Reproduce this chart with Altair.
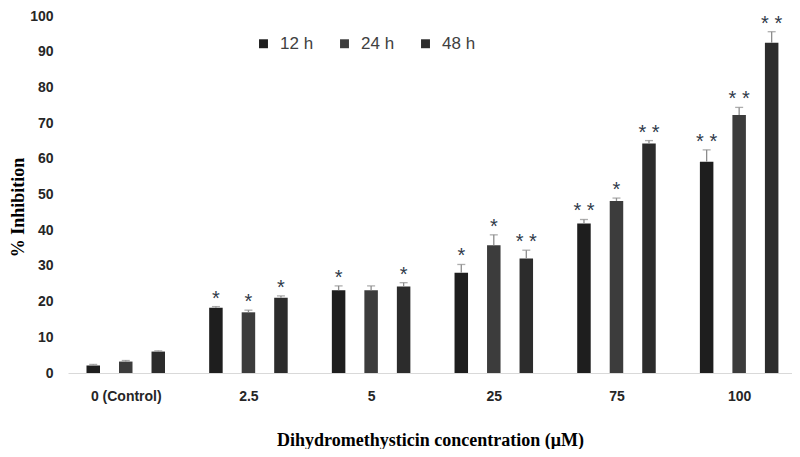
import altair as alt
import pandas as pd

groups = ["0 (Control)", "2.5", "5", "25", "75", "100"]
series = ["12 h", "24 h", "48 h"]
vals_12 = [2.1, 18.3, 23.2, 28.1, 41.9, 59.2]
err_12 = [0.3, 0.3, 1.2, 2.3, 1.1, 3.3]
vals_24 = [3.2, 17.0, 23.2, 35.8, 48.2, 72.3]
err_24 = [0.3, 0.6, 1.2, 2.9, 0.8, 2.1]
vals_48 = [6.0, 21.1, 24.2, 32.1, 64.3, 92.5]
err_48 = [0.2, 0.5, 1.1, 2.3, 0.8, 3.1]
sig_12 = ["", "*", "*", "*", "* *", "* *"]
sig_24 = ["", "*", "", "*", "*", "* *"]
sig_48 = ["", "*", "*", "* *", "* *", "* *"]

colors = ["#1e1e1e", "#3c3c3c", "#2c2c2c"]

rows = []
for si, (s, v, e, g) in enumerate(zip(series, [vals_12, vals_24, vals_48],
                                       [err_12, err_24, err_48],
                                       [sig_12, sig_24, sig_48])):
    for gi in range(len(groups)):
        rows.append({"gi": gi, "si": si, "series": s, "value": v[gi],
                     "err": e[gi], "sig": g[gi]})
df = pd.DataFrame(rows)

label_expr = "[" + ",".join(f"'{g}'" for g in groups) + "][datum.value]"

x_scale = alt.Scale(domain=[-0.43, 5.39], nice=False, zero=False)
y_scale = alt.Scale(domain=[0, 100], nice=False)

x_axis = alt.Axis(
    values=list(range(len(groups))), labelExpr=label_expr, grid=False,
    ticks=False, domainColor="#d9d9d9", domainWidth=1, labelOverlap=False,
    labelFont="Liberation Sans", labelFontWeight="bold", labelFontSize=14,
    labelColor="#262626", labelPadding=16,
    title="Dihydromethysticin concentration (\u03bcM)",
    titleFont="Liberation Serif", titleFontSize=18, titleFontWeight="bold",
    titleColor="#000000", titleY=67, titleBaseline="middle")

y_axis = alt.Axis(
    values=list(range(0, 101, 10)), grid=False, ticks=False,
    domain=False, labelOverlap=False, labelFlush=False,
    labelFont="Liberation Sans", labelFontWeight="bold", labelFontSize=14,
    labelColor="#262626", labelPadding=15,
    title="% Inhibition", titleFont="Liberation Serif", titleFontSize=18,
    titleFontWeight="bold", titleColor="#000000", titleX=-50, titleY=191,
    titleBaseline="middle", titleAlign="center", titleAngle=-90)

base = alt.Chart(df).transform_calculate(
    pos="datum.gi + (datum.si - 1) * 0.265",
    top="datum.value + datum.err",
)

X = alt.X("pos:Q", scale=x_scale, axis=x_axis)

bars = base.mark_bar(size=13.5).encode(
    x=X,
    y=alt.Y("value:Q", scale=y_scale, axis=y_axis),
    color=alt.Color("series:N", scale=alt.Scale(domain=series, range=colors),
                    legend=alt.Legend(orient="none", direction="horizontal",
                                      legendX=187, legendY=19, title=None,
                                      symbolType="square", symbolSize=80,
                                      symbolStrokeWidth=0,
                                      labelFont="Liberation Sans",
                                      labelFontSize=17, labelColor="#404040",
                                      columnPadding=22, labelOffset=8)),
)

err_rule = base.mark_rule(color="#8c8c8c", strokeWidth=1.3).encode(
    x=X,
    y=alt.Y("value:Q", scale=y_scale, axis=y_axis),
    y2="top:Q",
)

err_cap = base.mark_tick(orient="horizontal", size=8, thickness=1.3,
                         color="#8c8c8c").encode(
    x=X,
    y=alt.Y("top:Q", scale=y_scale, axis=y_axis),
)

stars = base.mark_text(font="Liberation Sans", fontSize=20, color="#2f3a4a",
                       baseline="middle", dy=-8).encode(
    x=X,
    y=alt.Y("top:Q", scale=y_scale, axis=y_axis),
    text="sig:N",
)

chart = alt.layer(bars, err_rule, err_cap, stars).properties(
    width=724, height=357,
    autosize=alt.AutoSizeParams(type="none"),
    padding={"left": 60, "top": 8, "right": 0, "bottom": 76},
).configure_view(stroke=None)

chart.save("out.html", embed_options={"renderer": "svg", "actions": False})
